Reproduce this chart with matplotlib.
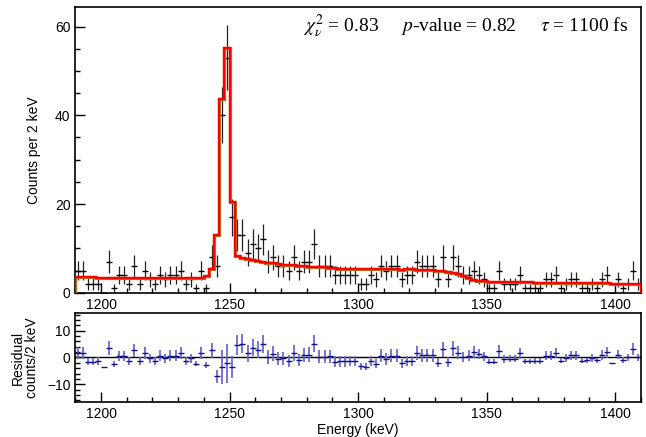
import numpy as np
import matplotlib
matplotlib.use("Agg")
import matplotlib.pyplot as plt
from matplotlib.ticker import MultipleLocator

plt.rcParams["font.family"] = ["Liberation Sans", "DejaVu Sans"]
plt.rcParams["mathtext.fontset"] = "stix"

# 2 keV bins from 1190 to 1410 keV
bin_edges = np.arange(1190, 1412, 2)
bin_centers = bin_edges[:-1] + 1

counts = [
  5, 5, 2, 2, 2, 0, 7, 1, 4, 4,
  2, 6, 2, 5, 3, 2, 4, 3, 4, 4,
  5, 2, 3, 1, 5, 1, 8, 6, 40, 53,
  17, 13, 13, 9, 11, 10, 12, 7, 8, 6,
  6, 5, 8, 5, 7, 7, 11, 6, 6, 6,
  4, 4, 4, 4, 4, 2, 2, 4, 3, 6,
  5, 6, 6, 3, 4, 4, 7, 6, 6, 6,
  3, 8, 3, 8, 6, 4, 4, 5, 4, 3,
  1, 1, 5, 2, 2, 2, 4, 1, 1, 1,
  1, 3, 3, 4, 1, 2, 3, 3, 1, 1,
  2, 1, 3, 4, 0, 3, 1, 2, 5, 2,
]

fit_model = [
  3.5, 3.5, 3.5, 3.5, 3.4, 3.4, 3.4, 3.4, 3.4, 3.4,
  3.3, 3.3, 3.3, 3.3, 3.3, 3.3, 3.3, 3.3, 3.3, 3.3,
  3.3, 3.3, 3.3, 3.3, 3.3, 3.8, 5.3, 13.0, 43.6, 55.2,
  20.5, 8.3, 7.8, 7.5, 7.3, 7.1, 7.0, 6.8, 6.6, 6.5,
  6.3, 6.2, 6.3, 6.1, 6.0, 5.9, 5.8, 5.7, 5.7, 5.6,
  5.5, 5.4, 5.4, 5.3, 5.3, 5.3, 5.4, 5.3, 5.3, 5.3,
  5.4, 5.3, 5.3, 5.2, 5.3, 5.3, 5.2, 5.2, 5.2, 5.1,
  5.0, 4.9, 4.7, 4.5, 4.2, 3.8, 3.3, 2.9, 2.7, 2.6,
  2.5, 2.5, 2.5, 2.5, 2.4, 2.4, 2.4, 2.4, 2.4, 2.3,
  2.3, 2.3, 2.3, 2.3, 2.2, 2.2, 2.2, 2.2, 2.2, 2.1,
  2.1, 2.1, 2.1, 2.1, 2.0, 2.0, 2.0, 2.0, 2.0, 2.0,
]

counts = np.array(counts, dtype=float)
fit_model = np.array(fit_model)
errors = np.sqrt(counts)
residuals = counts - fit_model

fig = plt.figure(figsize=(6.46, 4.37), dpi=100)
ax = fig.add_axes([0.1166, 0.3302, 0.8752, 0.6545])
ax_res = fig.add_axes([0.1166, 0.0808, 0.8752, 0.2023])


def root_style(a):
  a.tick_params(which="both", direction="in", labelsize=10, width=1, top=False, right=False)
  a.tick_params(which="major", length=7)
  a.tick_params(which="minor", length=3.5)
  for s in a.spines.values():
    s.set_linewidth(1.2)
  a.xaxis.set_major_locator(MultipleLocator(50))
  a.xaxis.set_minor_locator(MultipleLocator(10))
  a.set_xlim(1190, 1410)


# top panel
ax.errorbar(bin_centers, counts, yerr=errors, fmt="_", color="black",
            ecolor="#222222", elinewidth=0.9, markersize=4, capsize=0, zorder=2)
ax.stairs(fit_model, bin_edges, color="#a8802a", linewidth=2.3, zorder=3)
ax.stairs(fit_model, bin_edges, color="#ff0000", linewidth=1.7, zorder=4)
root_style(ax)
ax.set_ylim(0, 64.5)
ax.yaxis.set_major_locator(MultipleLocator(20))
ax.yaxis.set_minor_locator(MultipleLocator(5))
ax.set_ylabel("Counts per 2 keV", fontsize=10, labelpad=10)
ax.text(0.978, 0.93,
        r"$\chi^2_\nu$ = 0.83     $p$-value = 0.82     $\tau$ = 1100 fs",
        transform=ax.transAxes, ha="right", va="center",
        fontsize=14, family="Liberation Serif")

# residual panel
ax_res.axhline(0, color="black", linewidth=1.0, zorder=1)
ax_res.errorbar(bin_centers, residuals, yerr=errors, fmt="_", color="#10108a",
                ecolor="#6a6acc", elinewidth=1.3, markersize=4, capsize=0, zorder=2)
root_style(ax_res)
ax_res.set_ylim(-16.5, 16.5)
ax_res.yaxis.set_minor_locator(MultipleLocator(2))
ax_res.set_yticks([-10, 0, 10])
ax_res.set_yticklabels(["\u221210", "0", "10"])
ax_res.set_ylabel("Residual\ncounts/2 keV", fontsize=10, labelpad=6, linespacing=1.0)
ax_res.set_xlabel("Energy (keV)", fontsize=10, labelpad=2)

fig.savefig("out.png", dpi=100)
plt.close(fig)
